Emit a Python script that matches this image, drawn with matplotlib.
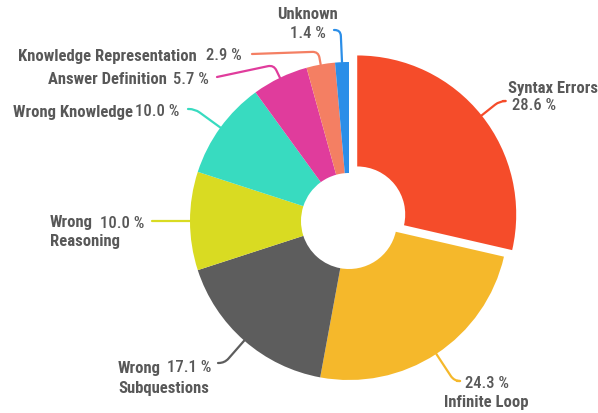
import numpy as np
import matplotlib
matplotlib.use("Agg")
import matplotlib.pyplot as plt

# data
names = ["Syntax Errors", "Infinite Loop", "Wrong\nSubquestions", "Wrong\nReasoning",
         "Wrong Knowledge", "Answer Definition", "Knowledge Representation", "Unknown"]
shares = [28.6, 24.3, 17.1, 10.0, 10.0, 5.7, 2.9, 1.4]
colors = ["#f54c2a", "#f5b82b", "#5d5d5d", "#d9db22", "#38dbc0", "#e03c9c", "#f47f63", "#2b8ee8"]

W, H = 598, 414
cx, cy, R = 349, H - 222, 159   # pixel layout
hole = 48
txt_col = "#585858"
fam = ["Roboto Condensed", "Asap Condensed", "Roboto", "DejaVu Sans"]
fs = 12

fig = plt.figure(figsize=(W / 100, H / 100), dpi=100)
ax = fig.add_axes([0, 0, 1, 1])

explode = [10.5] + [0] * (len(shares) - 1)
wedges, _ = ax.pie(shares, colors=colors, startangle=90, counterclock=False,
                   radius=R, center=(cx, cy), explode=explode,
                   wedgeprops=dict(width=R - hole, linewidth=0))
ax.set_xlim(0, W)
ax.set_ylim(0, H)
ax.set_aspect("equal")
ax.axis("off")

# label layout: (line end x, y from top), angleA, text pieces
# each piece: (text, x, y_top, ha, bold)
layout = [
    ((503, 102), 0, [("Syntax Errors", 508, 88, "left", True), ("28.6 %", 512, 106, "left", False)]),
    ((457, 382), 0, [("24.3 %", 487, 384, "center", False), ("Infinite Loop", 486, 403, "center", True)]),
    ((218, 364), 0, [("Wrong", 118, 369, "left", True), ("17.1 %", 167, 368, "left", False),
                      ("Subquestions", 118, 389, "left", True)]),
    ((152, 222), None, [("Wrong", 50, 222, "left", True), ("10.0 %", 100, 224, "left", False),
                         ("Reasoning", 50, 242, "left", True)]),
    ((188, 110), 0, [("Wrong Knowledge", 13, 112, "left", True), ("10.0 %", 135, 111, "left", False)]),
    ((217, 78), 12, [("Answer Definition", 48, 80, "left", True), ("5.7 %", 173, 80, "left", False)]),
    ((252, 55), 2, [("Knowledge Representation", 18, 56, "left", True), ("2.9 %", 206, 56, "left", False)]),
    ((334, 31), 0, [("Unknown", 307, 14, "center", True), ("1.4 %", 308, 33, "center", False)]),
]

for w, col, (end, angA, pieces) in zip(wedges, colors, layout):
    ang = (w.theta1 + w.theta2) / 2
    wx, wy = w.center
    px = wx + R * np.cos(np.radians(ang))
    py = wy + R * np.sin(np.radians(ang))
    if angA is None:
        cs = "arc3"
    else:
        cs = "angle,angleA=%g,angleB=%g,rad=6" % (angA, ang)
    ax.annotate("", xy=(px, py), xytext=(end[0], H - end[1]),
                arrowprops=dict(arrowstyle="-", color=col, lw=1.6,
                                shrinkA=0, shrinkB=0, connectionstyle=cs))
    for t, x, y, ha, bold in pieces:
        ax.text(x, H - y, t, ha=ha, va="center", color=txt_col, fontsize=fs,
                family=fam, fontweight="bold" if bold else "medium")

fig.savefig("out.png", dpi=100)
